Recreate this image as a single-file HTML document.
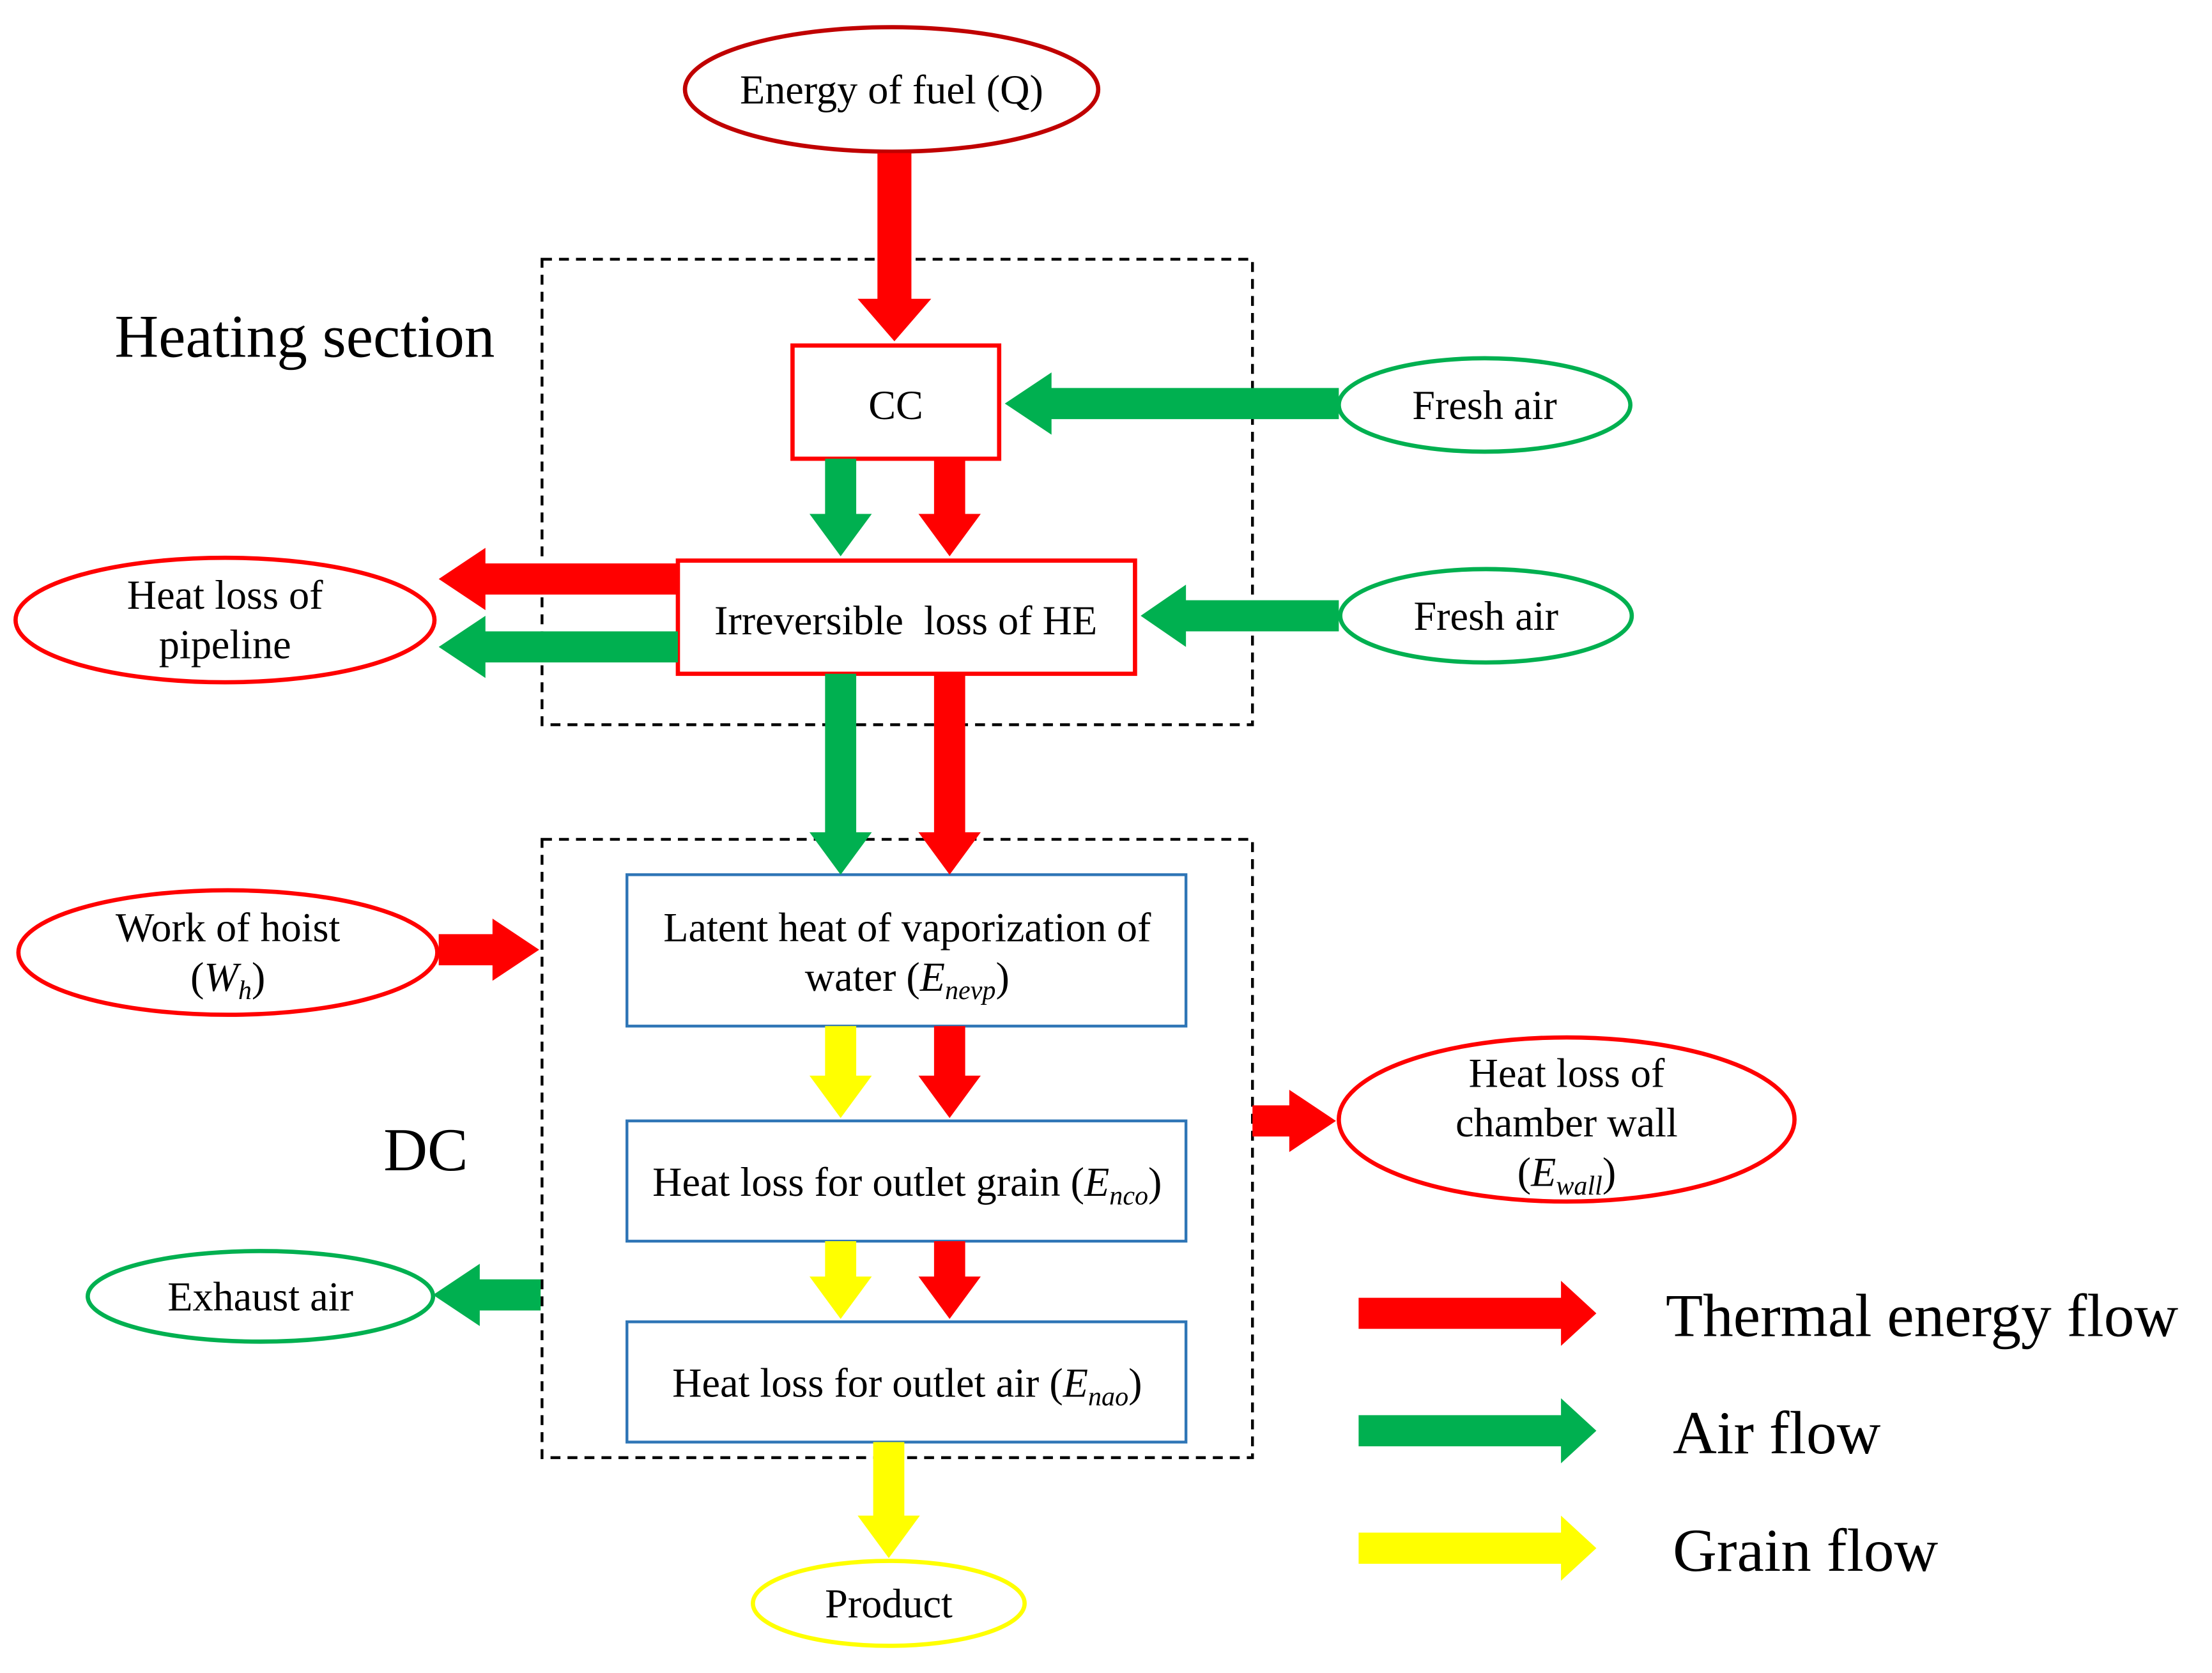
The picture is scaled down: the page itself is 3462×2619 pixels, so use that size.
<!DOCTYPE html>
<html><head><meta charset="utf-8"><style>
html,body{margin:0;padding:0;background:#fff;}
svg{display:block;}
text{font-family:"Liberation Serif","Times New Roman",serif;fill:#000;}
</style></head><body>
<svg width="3462" height="2619" viewBox="0 0 1563 1182" xmlns="http://www.w3.org/2000/svg">
<rect width="1563" height="1182" fill="#fff"/>
<g transform="translate(-2,-2)">
<rect x="385" y="185" width="502" height="329" fill="none" stroke="#000" stroke-width="2" stroke-dasharray="7,5"/>
<rect x="385" y="595" width="502" height="437" fill="none" stroke="#000" stroke-width="2" stroke-dasharray="7,5"/>
<text x="83" y="254" font-size="43">Heating section</text>
<text x="273" y="829" font-size="43">DC</text>

<ellipse cx="632" cy="65" rx="146" ry="44" fill="#fff" stroke="#c00000" stroke-width="3"/>
<text x="632" y="75" font-size="29" text-anchor="middle">Energy of fuel (Q)</text>
<ellipse cx="1051" cy="288" rx="103" ry="33" fill="#fff" stroke="#00b050" stroke-width="3"/>
<text x="1051" y="298" font-size="29" text-anchor="middle">Fresh air</text>
<ellipse cx="1052" cy="437" rx="103" ry="33" fill="#fff" stroke="#00b050" stroke-width="3"/>
<text x="1052" y="447" font-size="29" text-anchor="middle">Fresh air</text>
<ellipse cx="161" cy="440" rx="148" ry="44" fill="#fff" stroke="#ff0000" stroke-width="3"/>
<text x="161" y="432" font-size="29" text-anchor="middle">Heat loss of</text>
<text x="161" y="467" font-size="29" text-anchor="middle">pipeline</text>
<ellipse cx="163" cy="675" rx="148" ry="44" fill="#fff" stroke="#ff0000" stroke-width="3"/>
<text x="163" y="667" font-size="29" text-anchor="middle">Work of hoist</text>
<text x="163" y="702" font-size="29" text-anchor="middle">(<tspan font-style="italic">W</tspan><tspan font-style="italic" font-size="19" dy="6">h</tspan><tspan dy="-6">)</tspan></text>
<ellipse cx="1109" cy="793" rx="161" ry="58" fill="#fff" stroke="#ff0000" stroke-width="3"/>
<text x="1109" y="770" font-size="29" text-anchor="middle">Heat loss of</text>
<text x="1109" y="805" font-size="29" text-anchor="middle">chamber wall</text>
<text x="1109" y="840" font-size="29" text-anchor="middle">(<tspan font-style="italic">E</tspan><tspan font-style="italic" font-size="19" dy="6">wall</tspan><tspan dy="-6">)</tspan></text>
<ellipse cx="186" cy="918" rx="122" ry="32" fill="#fff" stroke="#00b050" stroke-width="3"/>
<text x="186" y="928" font-size="29" text-anchor="middle">Exhaust air</text>
<ellipse cx="630" cy="1135" rx="96" ry="30" fill="#fff" stroke="#ffff00" stroke-width="3"/>
<text x="630" y="1145" font-size="29" text-anchor="middle">Product</text>

<rect x="562" y="246" width="146" height="80" fill="#fff" stroke="#ff0000" stroke-width="3"/>
<text x="635" y="298" font-size="29" text-anchor="middle">CC</text>
<rect x="481" y="398" width="323" height="80" fill="#fff" stroke="#ff0000" stroke-width="3"/>
<text x="642" y="450" font-size="29" text-anchor="middle" xml:space="preserve">Irreversible  loss of HE</text>
<rect x="445" y="620" width="395" height="107" fill="#fff" stroke="#2e75b6" stroke-width="2"/>
<text x="643" y="667" font-size="29" text-anchor="middle">Latent heat of vaporization of</text>
<text x="643" y="702" font-size="29" text-anchor="middle">water (<tspan font-style="italic">E</tspan><tspan font-style="italic" font-size="19" dy="6">nevp</tspan><tspan dy="-6">)</tspan></text>
<rect x="445" y="794" width="395" height="85" fill="#fff" stroke="#2e75b6" stroke-width="2"/>
<text x="643" y="847" font-size="29" text-anchor="middle">Heat loss for outlet grain (<tspan font-style="italic">E</tspan><tspan font-style="italic" font-size="19" dy="6">nco</tspan><tspan dy="-6">)</tspan></text>
<rect x="445" y="936" width="395" height="85" fill="#fff" stroke="#2e75b6" stroke-width="2"/>
<text x="643" y="989" font-size="29" text-anchor="middle">Heat loss for outlet air (<tspan font-style="italic">E</tspan><tspan font-style="italic" font-size="19" dy="6">nao</tspan><tspan dy="-6">)</tspan></text>

<polygon fill="#ff0000" points="622,110 646,110 646,213 660,213 634,243 608,213 622,213"/>
<polygon fill="#00b050" points="948,276 745,276 745,265 712,287 745,309 745,298 948,298"/>
<polygon fill="#00b050" points="585,326 607,326 607,365 618,365 596,395 574,365 585,365"/>
<polygon fill="#ff0000" points="662,326 684,326 684,365 695,365 673,395 651,365 662,365"/>
<polygon fill="#00b050" points="948,426 840,426 840,415 808,437 840,459 840,448 948,448"/>
<polygon fill="#ff0000" points="481,400 345,400 345,389 312,411 345,433 345,422 481,422"/>
<polygon fill="#00b050" points="481,448 345,448 345,437 312,459 345,481 345,470 481,470"/>
<polygon fill="#00b050" points="585,478 607,478 607,590 618,590 596,620 574,590 585,590"/>
<polygon fill="#ff0000" points="662,478 684,478 684,590 695,590 673,620 651,590 662,590"/>
<polygon fill="#ff0000" points="312,662 350,662 350,651 383,673 350,695 350,684 312,684"/>
<polygon fill="#ffff00" points="585,727 607,727 607,762 618,762 596,792 574,762 585,762"/>
<polygon fill="#ff0000" points="662,727 684,727 684,762 695,762 673,792 651,762 662,762"/>
<polygon fill="#ff0000" points="887,783 913,783 913,772 946,794 913,816 913,805 887,805"/>
<polygon fill="#ffff00" points="585,879 607,879 607,904 618,904 596,934 574,904 585,904"/>
<polygon fill="#ff0000" points="662,879 684,879 684,904 695,904 673,934 651,904 662,904"/>
<polygon fill="#00b050" points="384,906 341,906 341,895 308,917 341,939 341,928 384,928"/>
<polygon fill="#ffff00" points="619,1021 641,1021 641,1073 652,1073 630,1103 608,1073 619,1073"/>

<polygon fill="#ff0000" points="962,919 1105,919 1105,907 1130,930 1105,953 1105,941 962,941"/>
<polygon fill="#00b050" points="962,1002 1105,1002 1105,990 1130,1013 1105,1036 1105,1024 962,1024"/>
<polygon fill="#ffff00" points="962,1085 1105,1085 1105,1073 1130,1096 1105,1119 1105,1107 962,1107"/>
<text x="1179" y="946" font-size="43">Thermal energy flow</text>
<text x="1184" y="1029" font-size="43">Air flow</text>
<text x="1184" y="1112" font-size="43">Grain flow</text>
</g>
</svg>
</body></html>
